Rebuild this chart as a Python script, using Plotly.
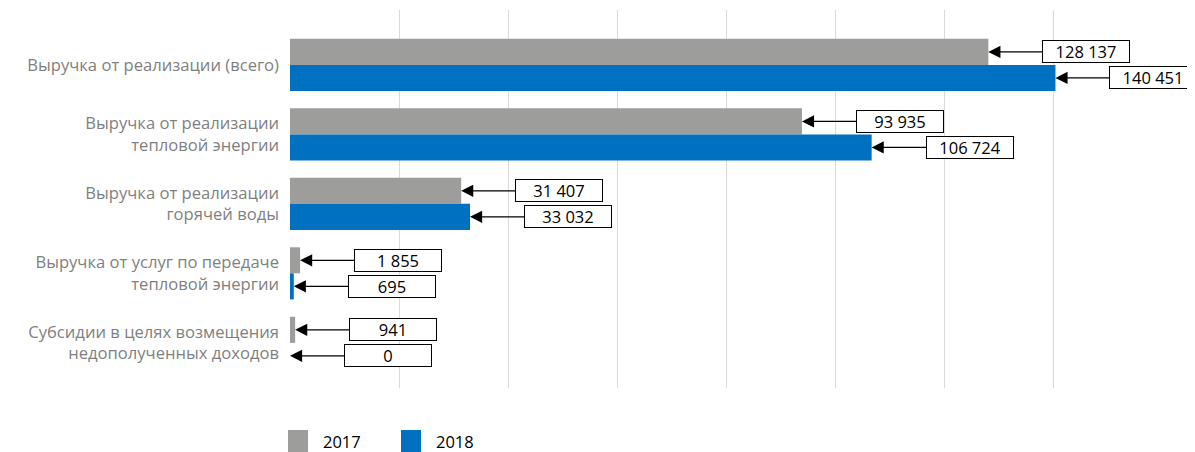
"""
Выручка по видам деятельности, 2017 и 2018 гг.
"""

import plotly.graph_objects as go


CATEGORIES = [
    "Выручка от реализации (всего)",
    "Выручка от реализации<br>тепловой энергии",
    "Выручка от реализации<br>горячей воды",
    "Выручка от услуг по передаче<br>тепловой энергии",
    "Субсидии в целях возмещения<br>недополученных доходов",
]
VALUES_2017 = [128137, 93935, 31407, 1855, 941]
VALUES_2018 = [140451, 106724, 33032, 695, 0]
YEARS = ["2017", "2018"]

GRAY = "#9d9d9c"
BLUE = "#0070c0"
FONT = "Open Sans"

# страница имеет отступ 8px, поэтому фигура чуть меньше окна
PLOT_LEFT, PLOT_TOP, PLOT_W, PLOT_H = 282, 2, 872, 378


def fmt(value: int) -> str:
    return f"{value:,}".replace(",", " ")


figure = go.Figure()

for year, values, color in zip(YEARS, [VALUES_2017, VALUES_2018], [GRAY, BLUE]):
    figure.add_trace(
        go.Bar(
            x=values,
            y=CATEGORIES,
            orientation="h",
            name=year,
            marker={"color": color, "line": {"width": 0}},
            showlegend=False,
        )
    )

# подписи значений со стрелками
for values, shift in [(VALUES_2017, 13), (VALUES_2018, -13)]:
    for category, value in zip(CATEGORIES, values):
        figure.add_annotation(
            x=value,
            y=category,
            yshift=shift,
            text=fmt(value),
            showarrow=True,
            arrowhead=2,
            arrowsize=2.2,
            arrowwidth=1.1,
            arrowcolor="#000000",
            ax=98,
            ay=0,
            width=84,
            height=19,
            bgcolor="#ffffff",
            bordercolor="#000000",
            borderwidth=1,
            borderpad=1,
            font={"family": FONT, "size": 16.5, "color": "#000000"},
        )

# легенда
for i, (year, color) in enumerate(zip(YEARS, [GRAY, BLUE])):
    x0 = 280 + i * 113
    figure.add_shape(
        type="rect",
        xref="paper",
        yref="paper",
        x0=(x0 - PLOT_LEFT) / PLOT_W,
        x1=(x0 + 20 - PLOT_LEFT) / PLOT_W,
        y0=(PLOT_TOP + PLOT_H - 444) / PLOT_H,
        y1=(PLOT_TOP + PLOT_H - 422) / PLOT_H,
        fillcolor=color,
        line_width=0,
    )
    figure.add_annotation(
        xref="paper",
        yref="paper",
        x=(x0 + 33 - PLOT_LEFT) / PLOT_W,
        y=(PLOT_TOP + PLOT_H - 433) / PLOT_H,
        xanchor="left",
        yanchor="middle",
        text=year,
        showarrow=False,
        font={"family": FONT, "size": 16.5, "color": "#000000"},
    )

figure.update_layout(
    width=1187,
    height=444,
    margin={"l": PLOT_LEFT, "r": 33, "t": PLOT_TOP, "b": 444 - PLOT_TOP - PLOT_H},
    paper_bgcolor="#ffffff",
    plot_bgcolor="#ffffff",
    barmode="group",
    bargap=0.25,
    bargroupgap=0,
    showlegend=False,
)

figure.update_xaxes(
    range=[0, 160000],
    dtick=20000,
    showgrid=True,
    gridcolor="#d9d9d9",
    gridwidth=1,
    zeroline=False,
    showticklabels=False,
    showline=False,
)

figure.update_yaxes(
    categoryorder="array",
    categoryarray=CATEGORIES,
    range=[4.65, -0.79],
    showgrid=False,
    zeroline=False,
    showline=False,
    ticks="",
    ticklabelstandoff=10,
    tickfont={"family": FONT, "size": 16.6, "color": "#7f7f7f"},
)

figure.write_html("out.html")
